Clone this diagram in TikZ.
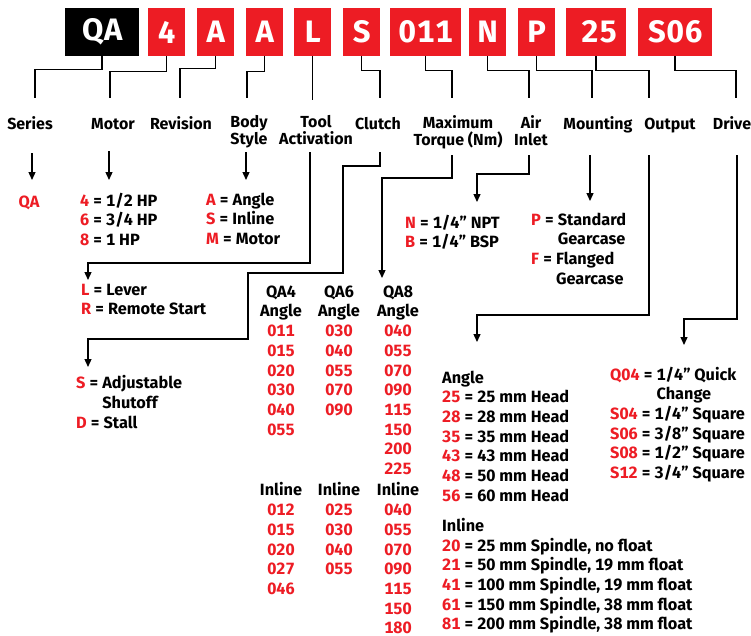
\documentclass[tikz,border=0pt]{standalone}
\usepackage{fontspec}
\setmainfont{Fira Sans}[Numbers=Monospaced]
\usetikzlibrary{arrows.meta}

\definecolor{qared}{RGB}{237,28,36}
\newcommand{\rc}[1]{\textcolor{qared}{#1}}

\tikzset{
  codebox/.style={fill=qared, text=white, minimum height=48pt, inner sep=0pt,
    anchor=north west, font=\fontsize{31}{31}\selectfont\bfseries\addfontfeatures{LetterSpace=3}},
  field/.style={anchor=north, align=center, inner sep=0pt,
    font=\fontsize{16}{17.5}\selectfont\bfseries,
    execute at begin node={\rule{0pt}{14pt}}},
  values/.style={anchor=north west, align=left, inner sep=0pt,
    font=\fontsize{16.3}{19.7}\selectfont\bfseries,
    execute at begin node={\rule{0pt}{14pt}}},
  tcol/.style={anchor=north, align=center, inner sep=0pt, text=qared,
    font=\fontsize{16.3}{19.7}\selectfont\bfseries,
    execute at begin node={\rule{0pt}{14pt}}},
  link/.style={line width=1.5pt},
  arr/.style={line width=1.3pt, -{Triangle[length=8pt,width=7pt]}}
}

\begin{document}
\begin{tikzpicture}[x=1pt, y=-1pt]
    \useasboundingbox (0,0) rectangle (751,635);

    % model code
    \node[codebox, fill=black, minimum width=74pt] (cseries) at (65,8) {QA\hspace{11pt}};
    \node[codebox, minimum width=37pt] (cmotor) at (148,8) {4};
    \node[codebox, minimum width=37pt] (crev) at (197,8) {A};
    \node[codebox, minimum width=37pt] (cbody) at (246,8) {A};
    \node[codebox, minimum width=37pt] (ctool) at (294,8) {L};
    \node[codebox, minimum width=37pt] (cclutch) at (343,8) {S};
    \node[codebox, minimum width=71pt] (ctorque) at (390,8) {011};
    \node[codebox, minimum width=37pt] (cair) at (469,8) {N};
    \node[codebox, minimum width=37pt] (cmount) at (518,8) {P};
    \node[codebox, minimum width=60pt] (coutput) at (566,8) {\hspace{6pt}25};
    \node[codebox, minimum width=74pt] (cdrive) at (638,8) {S06};

    % field names
    \node[field] (series) at (30,115) {Series};
    \node[field] (motor) at (113,115) {Motor};
    \node[field] (revision) at (181,115) {Revision};
    \node[field] (body) at (249,115) {Body\\Style};
    \node[field] (tool) at (316,115) {Tool\\Activation};
    \node[field] (clutch) at (378,115) {Clutch};
    \node[field] (torque) at (458,115) {Maximum\\Torque (Nm)};
    \node[field] (air) at (531,115) {Air\\Inlet};
    \node[field] (mount) at (598,115) {Mounting};
    \node[field] (output) at (670,115) {Output};
    \node[field] (drive) at (732,115) {Drive};

    \draw[link] (cseries.south) -- ++(0,13) -| ([shift={(5,-17)}]series.north);
    \draw[link] (cmotor.south) -- ++(0,15) -| ([shift={(-3,-17)}]motor.north);
    \draw[link] (crev.south) -- ++(0,12) -| ([shift={(-1,-17)}]revision.north);
    \draw[link] (cbody.south) -- ++(0,15) -| ([shift={(-2,-17)}]body.north);
    \draw[link] (ctool.south) -- ++(0,44);
    \draw[link] (cclutch.south) -- ++(0,14) -| ([shift={(2,-17)}]clutch.north);
    \draw[link] (ctorque.south) -- ++(0,14) -| ([shift={(-6,-17)}]torque.north);
    \draw[link] (cair.south) -- ++(0,14) -| ([shift={(-2,-17)}]air.north);
    \draw[link] (cmount.south) -- ++(0,14) -| ([shift={(-6,-17)}]mount.north);
    \draw[link] (coutput.south) -- ++(0,14) -| ([shift={(-21,-17)}]output.north);
    \draw[link] (cdrive.south) -- ++(0,14) -| ([shift={(4,-17)}]drive.north);

    % options
    \node[tcol] (vseries) at (29,193.5) {QA};
    \node[values] (vmotor) at (80,192.5) {\rc{4} = 1/2 HP\\\rc{6} = 3/4 HP\\\rc{8} = 1 HP};
    \node[values] (vbody) at (206,192.5) {\rc{A} = Angle\\\rc{S} = Inline\\\rc{M} = Motor};
    \node[values] (vtool) at (81,283.5) {\rc{L} = Lever\\\rc{R} = Remote Start};
    \node[values] (vclutch) at (76,375.5) {\rc{S} = Adjustable\\\phantom{S = }Shutoff\\\rc{D} = Stall};
    \node[values] (vair) at (405,214.5) {\rc{N} = 1/4” NPT\\\rc{B} = 1/4” BSP};
    \node[values] (vmount) at (531,212.5) {\rc{P} = Standard\\\phantom{P = }Gearcase\\\rc{F} = Flanged\\\phantom{F = }Gearcase};
    \node[values] (vout) at (442,370.5) {Angle\\\rc{25} = 25 mm Head\\\rc{28} = 28 mm Head\\\rc{35} = 35 mm Head\\\rc{43} = 43 mm Head\\\rc{48} = 50 mm Head\\\rc{56} = 60 mm Head};
    \node[values] (voutin) at (442,518) {Inline\\\rc{20} = 25 mm Spindle, no float\\\rc{21} = 50 mm Spindle, 19 mm float\\\rc{41} = 100 mm Spindle, 19 mm float\\\rc{61} = 150 mm Spindle, 38 mm float\\\rc{81} = 200 mm Spindle, 38 mm float};
    \node[values] (vdrive) at (610,366.5) {\rc{Q04} = 1/4” Quick\\\phantom{Q04 = }Change\\\rc{S04} = 1/4” Square\\\rc{S06} = 3/8” Square\\\rc{S08} = 1/2” Square\\\rc{S12} = 3/4” Square};

    % torque table
    \node[tcol] (qa4a) at (281,285.5) {\textcolor{black}{QA4}\\\textcolor{black}{Angle}\\011\\015\\020\\030\\040\\055};
    \node[tcol] (qa6a) at (339,285.5) {\textcolor{black}{QA6}\\\textcolor{black}{Angle}\\030\\040\\055\\070\\090};
    \node[tcol] (qa8a) at (398,285.5) {\textcolor{black}{QA8}\\\textcolor{black}{Angle}\\040\\055\\070\\090\\115\\150\\200\\225};
    \node[tcol] (qa4i) at (281,482.5) {\textcolor{black}{Inline}\\012\\015\\020\\027\\046};
    \node[tcol] (qa6i) at (339,482.5) {\textcolor{black}{Inline}\\025\\030\\040\\055};
    \node[tcol] (qa8i) at (398,482.5) {\textcolor{black}{Inline}\\040\\055\\070\\090\\115\\150\\180};

    \draw[arr] ([shift={(2,38)}]series.north) -- ([shift={(3,-13.5)}]vseries.north);
    \draw[arr] ([shift={(-4,36)}]motor.north) -- ([shift={(29,-12.5)}]vmotor.north west);
    \draw[arr] ([shift={(-3,37)}]body.north) -- ([shift={(40,-12.5)}]vbody.north west);
    \draw[arr] ([shift={(-6,37)}]tool.north) -- ++(0,111) -| ([shift={(7,-3.5)}]vtool.north west);
    \draw[arr] ([shift={(2,37)}]clutch.north) -- ++(0,14) -- ++(-37,0) -- ++(0,107) -- ++(-95,0) -- ++(0,66) -| ([shift={(12,-8.5)}]vclutch.north west);
    \draw[arr] ([shift={(-6,40)}]torque.north) -- ++(0,23) -| ([shift={(-16,-7.5)}]qa8a.north);
    \draw[arr] ([shift={(-2,40)}]air.north) -- ++(0,19) -| ([shift={(72,-12.5)}]vair.north west);
    \draw[arr] ([shift={(-8,40)}]mount.north) -- ([shift={(59,-11.5)}]vmount.north west);
    \draw[arr] ([shift={(-21,40)}]output.north) -- ++(0,160) -| ([shift={(35,-28.5)}]vout.north west);
    \draw[arr] ([shift={(5,40)}]drive.north) -- ++(0,164) -| ([shift={(74,-21.5)}]vdrive.north west);

\end{tikzpicture}
\end{document}
